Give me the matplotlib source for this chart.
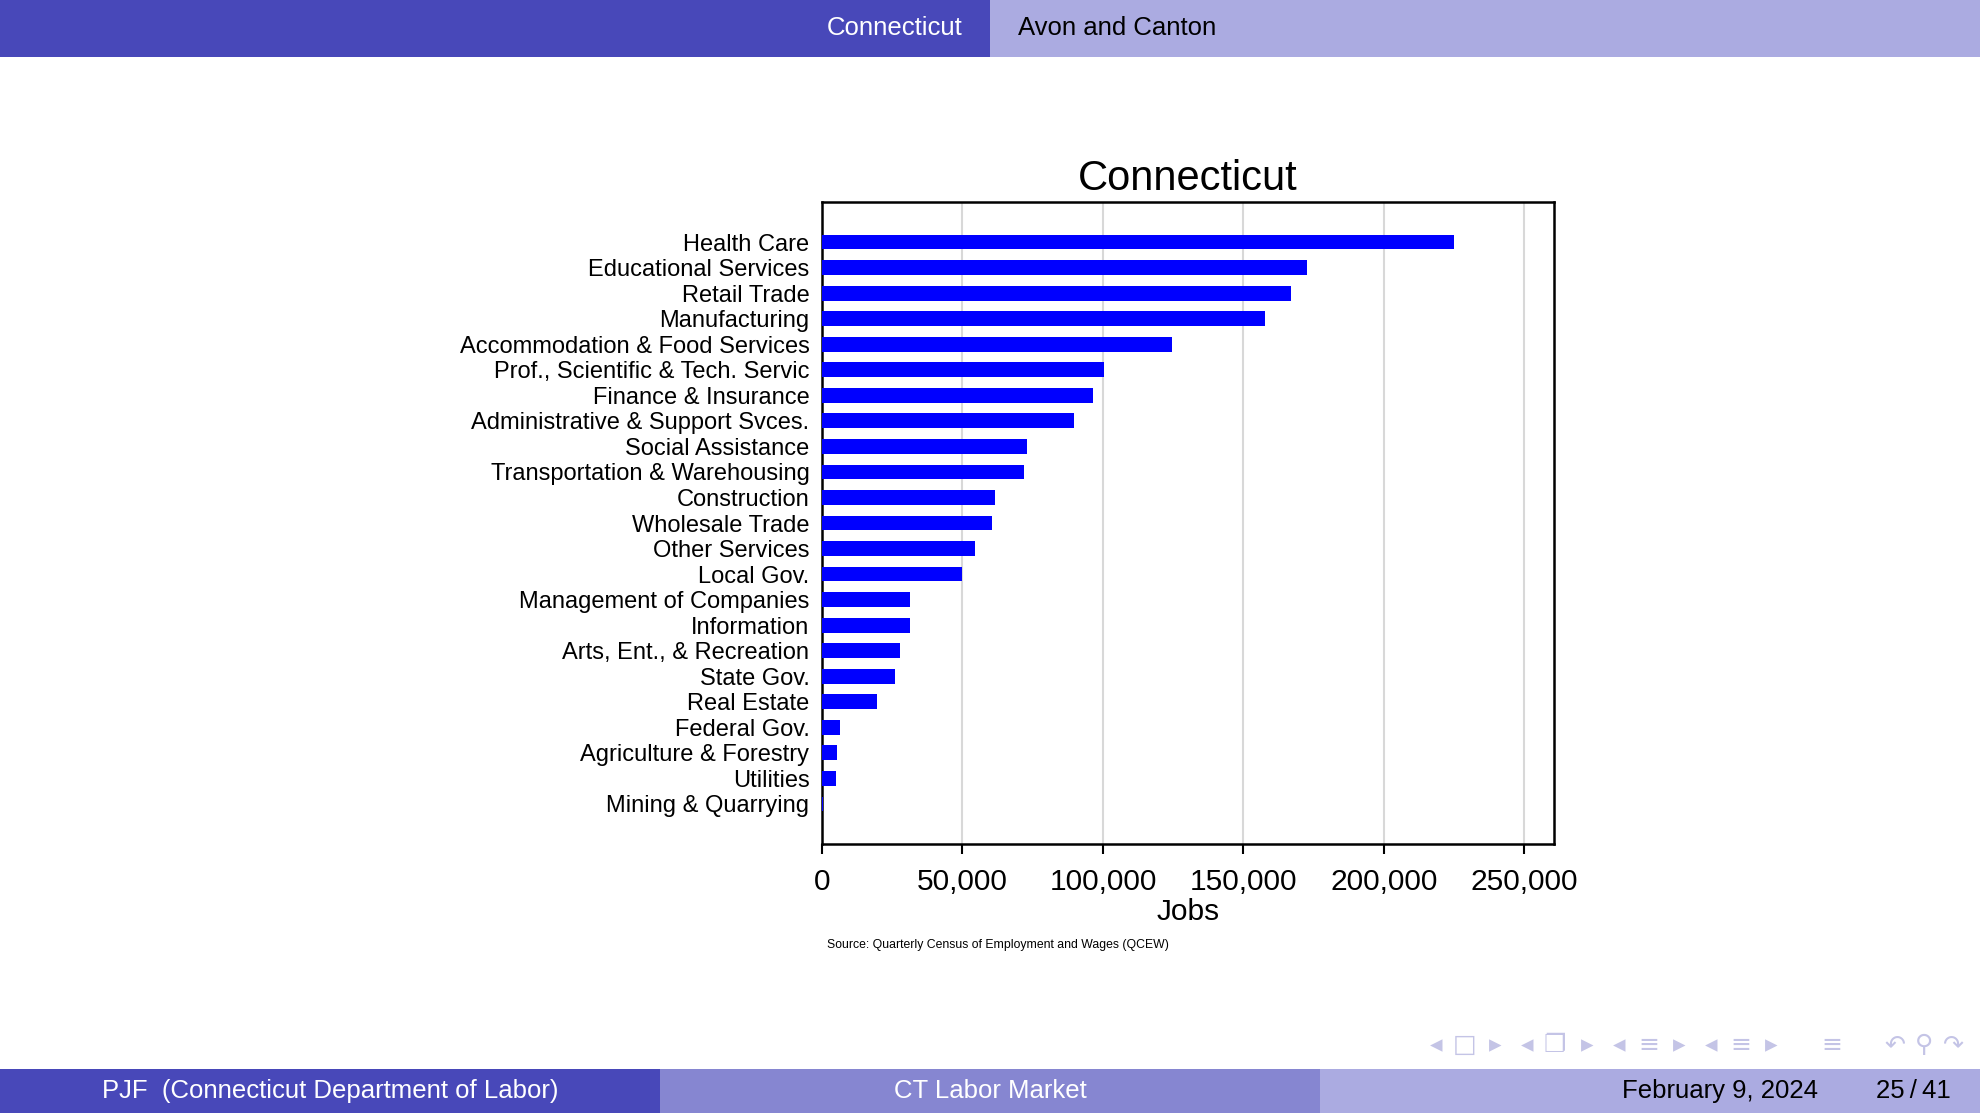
import numpy as np
import matplotlib
matplotlib.use('Agg')
import matplotlib.pyplot as plt
from matplotlib.patches import Rectangle
from matplotlib.ticker import FuncFormatter

plt.rcParams['font.family'] = ['Liberation Sans', 'DejaVu Sans']

industries = ['Health Care', 'Educational Services', 'Retail Trade', 'Manufacturing',
              'Accommodation & Food Services', 'Prof., Scientific & Tech. Servic',
              'Finance & Insurance', 'Administrative & Support Svces.', 'Social Assistance',
              'Transportation & Warehousing', 'Construction', 'Wholesale Trade',
              'Other Services', 'Local Gov.', 'Management of Companies', 'Information',
              'Arts, Ent., & Recreation', 'State Gov.', 'Real Estate', 'Federal Gov.',
              'Agriculture & Forestry', 'Utilities', 'Mining & Quarrying']
jobs = [225000, 172600, 167000, 157700, 124400, 100300, 96600, 89700, 72900,
        71800, 61500, 60600, 54400, 50000, 31400, 31300, 27600, 26100, 19600,
        6500, 5300, 5100, 400]
xticks = [0, 50000, 100000, 150000, 200000, 250000]

W, H = 1980, 1113
fig = plt.figure(figsize=(W / 100, H / 100), dpi=100)

# beamer header / footer
dark = '#4848b9'
mid = '#8686d1'
light = '#ababe1'
bg = fig.add_axes([0, 0, 1, 1])
bg.set_xlim(0, W)
bg.set_ylim(H, 0)
bg.axis('off')
bg.add_patch(Rectangle((0, 0), 990, 57, color=dark, lw=0))
bg.add_patch(Rectangle((990, 0), 990, 57, color=light, lw=0))
bg.text(962, 28, 'Connecticut', color='white', fontsize=18.5, ha='right', va='center')
bg.text(1018, 28, 'Avon and Canton', color='black', fontsize=18.5, ha='left', va='center')

bg.add_patch(Rectangle((0, 1069), 660, 44, color=dark, lw=0))
bg.add_patch(Rectangle((660, 1069), 660, 44, color=mid, lw=0))
bg.add_patch(Rectangle((1320, 1069), 660, 44, color=light, lw=0))
bg.text(330, 1091, 'PJF  (Connecticut Department of Labor)', color='white', fontsize=18.5,
        ha='center', va='center')
bg.text(990, 1091, 'CT Labor Market', color='white', fontsize=18.5, ha='center', va='center')
bg.text(1818, 1091, 'February 9, 2024', color='black', fontsize=18.5, ha='right', va='center')
bg.text(1951, 1091, '25\u2009/\u200941', color='black', fontsize=18.5, ha='right', va='center')

# navigation symbols
nav = [(1436, '◂'), (1465, '□'), (1495, '▸'), (1527, '◂'), (1555, '❐'), (1587, '▸'),
       (1619, '◂'), (1649, '≡'), (1679, '▸'), (1711, '◂'), (1741, '≡'), (1771, '▸'),
       (1832, '≡'), (1895, '↶'), (1924, '⚲'), (1953, '↷')]
for x, s in nav:
    bg.text(x, 1045, s, color='#c4c4e6', fontsize=18, ha='center', va='center',
            family='DejaVu Sans')

# chart
ax = fig.add_axes([822 / W, 1 - 844 / H, (1554 - 822) / W, (844 - 202) / H])
y = np.arange(len(industries))
ax.barh(y, jobs, height=0.58, color='#0000ff', zorder=3)
ax.set_xlim(0, 260500)
ax.set_ylim(len(industries) - 1 + 1.57, -1.57)
ax.set_yticks(y)
ax.set_yticklabels(industries, fontsize=17)
ax.tick_params(axis='y', length=0, pad=9)
ax.set_xticks(xticks)
ax.xaxis.set_major_formatter(FuncFormatter(lambda v, p: f'{int(v):,}'))
ax.tick_params(axis='x', labelsize=21.5, length=7, width=1.5, pad=10.5)
ax.grid(axis='x', color='#d8d8d8', lw=1.5, zorder=0)
for s in ax.spines.values():
    s.set_linewidth(1.8)
ax.set_xlabel('Jobs', fontsize=21.5, labelpad=1)
ax.set_title('Connecticut', fontsize=30, pad=9)

fig.text(827 / W, 1 - 945 / H, 'Source: Quarterly Census of Employment and Wages (QCEW)',
         fontsize=8.8, ha='left', va='center')

fig.savefig('out.png', dpi=100)
